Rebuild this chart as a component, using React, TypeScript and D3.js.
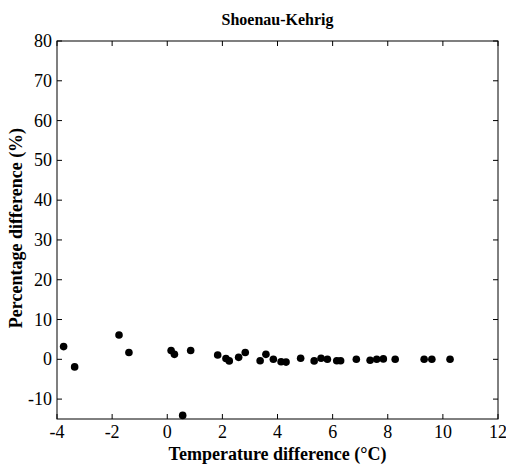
import React from "react";
import * as d3 from "d3";

const title = "Shoenau-Kehrig";
const tempDiff = [
  -3.76, -3.36, -1.75, -1.39, 0.14, 0.26, 0.56, 0.85, 1.83, 2.13, 2.25, 2.59, 2.83,
  3.37, 3.58, 3.85, 4.13, 4.31, 4.84, 5.33, 5.58, 5.81, 6.15, 6.29, 6.86, 7.36, 7.6,
  7.84, 8.27, 9.32, 9.6, 10.26,
];
const pctDiff = [
  3.2, -1.9, 6.1, 1.7, 2.2, 1.25, -14.1, 2.2, 1.1, 0.2, -0.4, 0.5, 1.7,
  -0.35, 1.25, 0, -0.6, -0.7, 0.25, -0.4, 0.25, 0, -0.35, -0.35, 0, -0.25, 0,
  0.1, 0, 0, 0, 0,
];
const xTicks = [-4, -2, 0, 2, 4, 6, 8, 10, 12];
const yTicks = [-10, 0, 10, 20, 30, 40, 50, 60, 70, 80];

const W = 506;
const H = 467;
const left = 57;
const right = 498;
const top = 41;
const bottom = 419;
const serif = { fontFamily: '"Liberation Serif", "DejaVu Serif", serif' };

export default function App() {
  const x = d3.scaleLinear().domain([-4, 12]).range([left, right]);
  const y = d3.scaleLinear().domain([-15, 80]).range([bottom, top]);
  const tk = 5;

  return (
    <svg width={W} height={H} style={{ position: "absolute", left: 0, top: 0, background: "#fff" }}>
      <rect x={left} y={top} width={right - left} height={bottom - top} fill="none" stroke="#000" strokeWidth={1} />
      {xTicks.map((t) => (
        <g key={"x" + t}>
          <line x1={x(t)} x2={x(t)} y1={bottom} y2={bottom - tk} stroke="#000" />
          <line x1={x(t)} x2={x(t)} y1={top} y2={top + tk} stroke="#000" />
          <text x={x(t)} y={438} textAnchor="middle" style={serif} fontSize={18}>
            {t}
          </text>
        </g>
      ))}
      {yTicks.map((t) => (
        <g key={"y" + t}>
          <line x1={left} x2={left + tk} y1={y(t)} y2={y(t)} stroke="#000" />
          <line x1={right} x2={right - tk} y1={y(t)} y2={y(t)} stroke="#000" />
          <text x={52} y={y(t) + 6} textAnchor="end" style={serif} fontSize={18}>
            {t}
          </text>
        </g>
      ))}
      {tempDiff.map((d, i) => (
        <circle key={i} cx={x(d)} cy={y(pctDiff[i])} r={3.8} fill="#000" />
      ))}
      <text x={(left + right) / 2} y={25} textAnchor="middle" style={serif} fontSize={16} fontWeight="bold">
        {title}
      </text>
      <text x={(left + right) / 2} y={460} textAnchor="middle" style={serif} fontSize={18} fontWeight="bold">
        Temperature difference (°C)
      </text>
      <text
        transform={`translate(22, ${(top + bottom) / 2 - 2}) rotate(-90)`}
        textAnchor="middle"
        style={serif}
        fontSize={18}
        fontWeight="bold"
      >
        Percentage difference (%)
      </text>
    </svg>
  );
}
